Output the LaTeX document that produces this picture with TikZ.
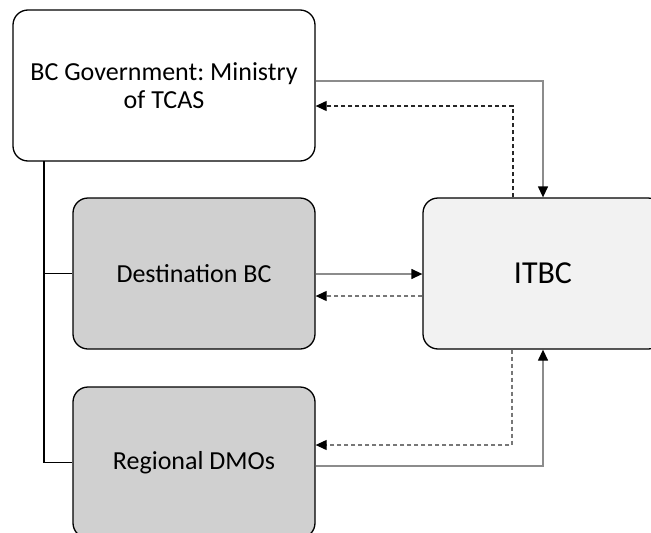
\documentclass[tikz,border=0pt]{standalone}
\usepackage{fontspec}
\setmainfont{Carlito}
\usetikzlibrary{arrows.meta}
\definecolor{boxgray}{HTML}{D0D0D0}
\definecolor{boxlight}{HTML}{F2F2F2}
\definecolor{linegray}{HTML}{8C8C8C}
\definecolor{dashgray}{HTML}{777777}
\frenchspacing
\begin{document}
\begin{tikzpicture}[x=1pt,y=-1pt,
  box/.style={draw=black, line width=1.3pt, rounded corners=15pt, align=center,
    minimum width=242pt, minimum height=151pt, inner sep=0pt,
    font=\fontsize{26}{28}\selectfont},
  tip/.style={-{Triangle[length=11pt,width=10pt,color=black]}},
  solidarr/.style={tip, draw=linegray, line width=1.3pt},
  dasharr/.style={tip, draw=dashgray, line width=1.1pt, dash pattern=on 4pt off 3pt},
  dashdark/.style={tip, draw=black!85, line width=1.1pt, dash pattern=on 4pt off 3pt},
  tree/.style={draw=black, line width=1.3pt}]
\useasboundingbox (0,0) rectangle (651,533);
\node[box, fill=white, minimum width=302pt] (gov) at (164,85.5) {BC Government: Ministry\\of TCAS};
\node[box, fill=boxgray] (dest) at (194,273.5) {Destination BC};
\node[box, fill=boxgray] (reg) at (194,462.5) {Regional DMOs};
\node[box, fill=boxlight, minimum width=240pt, font=\fontsize{32}{36}\selectfont] (itbc) at (543,273.5) {ITBC};
% tree
\coordinate (trunk) at (44,161);
\draw[tree] (trunk) -- (trunk |- reg.west) -- (reg.west);
\draw[tree] (trunk |- dest.west) -- (dest.west);
% top
\coordinate (c1) at (543,81);
\coordinate (c2) at (513,106);
\draw[solidarr] (gov.east |- c1) -- (c1) -- (c1 |- itbc.north);
\draw[dashdark] (c2 |- itbc.north) -- (c2) -- (gov.east |- c2);
% middle
\coordinate (c3) at (0,296);
\coordinate (c6) at (0,274);
\draw[solidarr] (dest.east |- c6) -- (itbc.west |- c6);
\draw[dasharr] (itbc.west |- c3) -- (dest.east |- c3);
% bottom
\coordinate (c4) at (512,445);
\coordinate (c5) at (543,466);
\draw[dasharr] (c4 |- itbc.south) -- (c4) -- (reg.east |- c4);
\draw[solidarr] (reg.east |- c5) -- (c5) -- (c5 |- itbc.south);
\end{tikzpicture}
\end{document}
